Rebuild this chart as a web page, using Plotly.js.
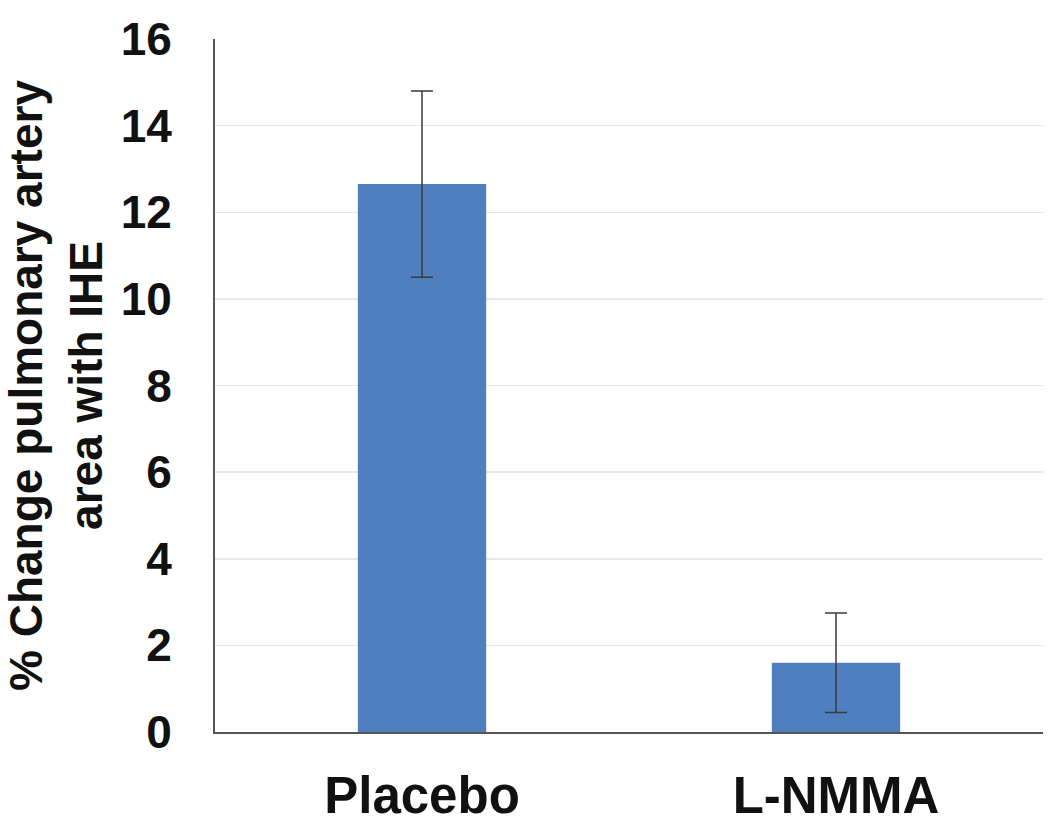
<!DOCTYPE html>
<html>
<head>
<meta charset="utf-8">
<script src="https://cdn.plot.ly/plotly-3.0.1.min.js"></script>
<style>
  html, body { margin: 0; padding: 0; background: #fff; }
  #chart { width: 1050px; height: 840px; }
</style>
</head>
<body>
<div id="chart"></div>
<script>
// groups and their mean % change with error
var groups = ['Placebo', 'L-NMMA'];
var pctChange = [12.65, 1.6];
var errors = [2.15, 1.15];

var bars = {
    x: groups,
    y: pctChange,
    type: 'bar',
    width: 0.31,
    marker: { color: '#4f7fbe' },
    error_y: {
        type: 'data',
        array: errors,
        visible: true,
        color: '#3a3a3a',
        thickness: 1.5,
        width: 11
    },
    hoverinfo: 'none'
};

var layout = {
    width: 1050,
    height: 840,
    margin: { l: 213, r: 7, t: 39, b: 108 },
    paper_bgcolor: '#fff',
    plot_bgcolor: '#fff',
    showlegend: false,
    font: { family: 'Liberation Sans, Arial, sans-serif', color: '#111' },
    xaxis: {
        showline: true,
        linecolor: '#555',
        linewidth: 2,
        ticks: '',
        tickfont: { size: 51, weight: 'bold' },
        ticklabelstandoff: 18
    },
    yaxis: {
        range: [0, 16],
        dtick: 2,
        showline: true,
        linecolor: '#555',
        linewidth: 2,
        gridcolor: '#e8e8e8',
        gridwidth: 1.5,
        zeroline: false,
        ticks: '',
        tickfont: { size: 46, weight: 'bold' },
        ticklabelstandoff: 32,
        automargin: true,
        title: {
            text: '% Change pulmonary artery<br>area with IHE',
            font: { size: 46, weight: 'bold' },
            standoff: 22
        }
    }
};

Plotly.newPlot('chart', [bars], layout, { displayModeBar: false, staticPlot: true });
</script>
</body>
</html>
